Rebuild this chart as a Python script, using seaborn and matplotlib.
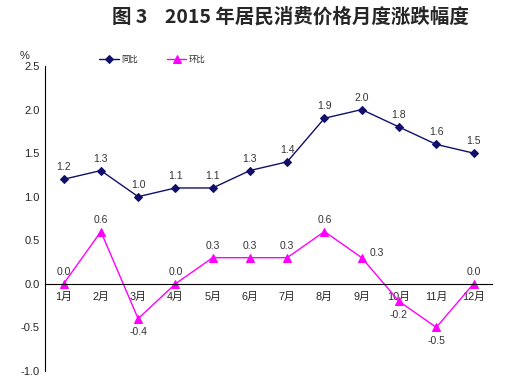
import seaborn as sns
import matplotlib.pyplot as plt
import pandas as pd

months = ["1月", "2月", "3月", "4月", "5月", "6月", "7月", "8月", "9月", "10月", "11月", "12月"]
yoy = [1.2, 1.3, 1.0, 1.1, 1.1, 1.3, 1.4, 1.9, 2.0, 1.8, 1.6, 1.5]
mom = [0.0, 0.6, -0.4, 0.0, 0.3, 0.3, 0.3, 0.6, 0.3, -0.2, -0.5, 0.0]
yticks = [-1.0, -0.5, 0.0, 0.5, 1.0, 1.5, 2.0, 2.5]

sns.set_style("white")
plt.rcParams['font.family'] = ['Liberation Sans', 'Noto Sans CJK SC']

navy = "#10106a"
pink = "#ff00ff"

df = pd.DataFrame({"x": list(range(len(months))), "同比": yoy, "环比": mom})

fig = plt.figure(figsize=(5.23, 3.77), dpi=100)
ax = fig.add_axes([0.086, 0.016, 0.855, 0.809])

sns.lineplot(data=df, x="x", y="同比", ax=ax, color=navy, marker="D", markersize=4.5,
             markeredgecolor=navy, linewidth=1, label="同比")
sns.lineplot(data=df, x="x", y="环比", ax=ax, color=pink, marker="^", markersize=6,
             markeredgecolor=pink, linewidth=1, label="环比")

# 数据标签
for i, v in enumerate(yoy):
    ax.annotate(f"{v:.1f}", (i, v), xytext=(0, 5), textcoords="offset points",
                ha="center", va="bottom", fontsize=7.5, color="#333333")
offsets = {2: (0, -6, "top", "center"), 8: (6, 0, "bottom", "left"),
           9: (0, -6, "top", "center"), 10: (0, -6, "top", "center")}
for i, v in enumerate(mom):
    dx, dy, va, ha = offsets.get(i, (0, 5, "bottom", "center"))
    ax.annotate(f"{v:.1f}", (i, v), xytext=(dx, dy), textcoords="offset points",
                ha=ha, va=va, fontsize=7.5, color="#333333")

ax.set_xlim(-0.5, len(months) - 0.5)
ax.set_ylim(-1.0, 2.5)
ax.set_yticks(yticks)
ax.set_yticklabels([f"{t:.1f}" for t in yticks], fontsize=8)
ax.set_xticks([i + 0.5 for i in range(len(months))])
ax.set_xticklabels([])
ax.set_xticks(list(range(len(months))), minor=True)
ax.set_xticklabels(months, minor=True)
ax.tick_params(axis="x", which="major", direction="in", length=4, width=0.8)
ax.tick_params(axis="x", which="minor", length=0, pad=6, labelsize=7.8)
ax.tick_params(axis="y", direction="in", length=4, width=0.8, pad=4)
ax.set_xlabel("")
ax.set_ylabel("")

for s in ["top", "right"]:
    ax.spines[s].set_visible(False)
ax.spines["bottom"].set_position(("data", 0))
ax.spines["left"].set_color("black")
ax.spines["bottom"].set_color("black")
ax.spines["left"].set_linewidth(0.8)
ax.spines["bottom"].set_linewidth(0.8)

ax.text(-0.045, 1.015, "%", transform=ax.transAxes, fontsize=8, ha="center", va="bottom")

ax.legend(loc="upper left", bbox_to_anchor=(0.105, 1.06), ncol=2, frameon=False,
          columnspacing=3.5, handlelength=2.3, handletextpad=0.3,
          prop={"family": ["Noto Sans CJK SC"], "size": 6})

fig.text(0.555, 0.955, "图 3    2015 年居民消费价格月度涨跌幅度", ha="center", va="center",
         fontsize=14, fontweight="bold", family=["Noto Sans CJK SC"])

plt.savefig("out.png", dpi=100)
plt.close()
